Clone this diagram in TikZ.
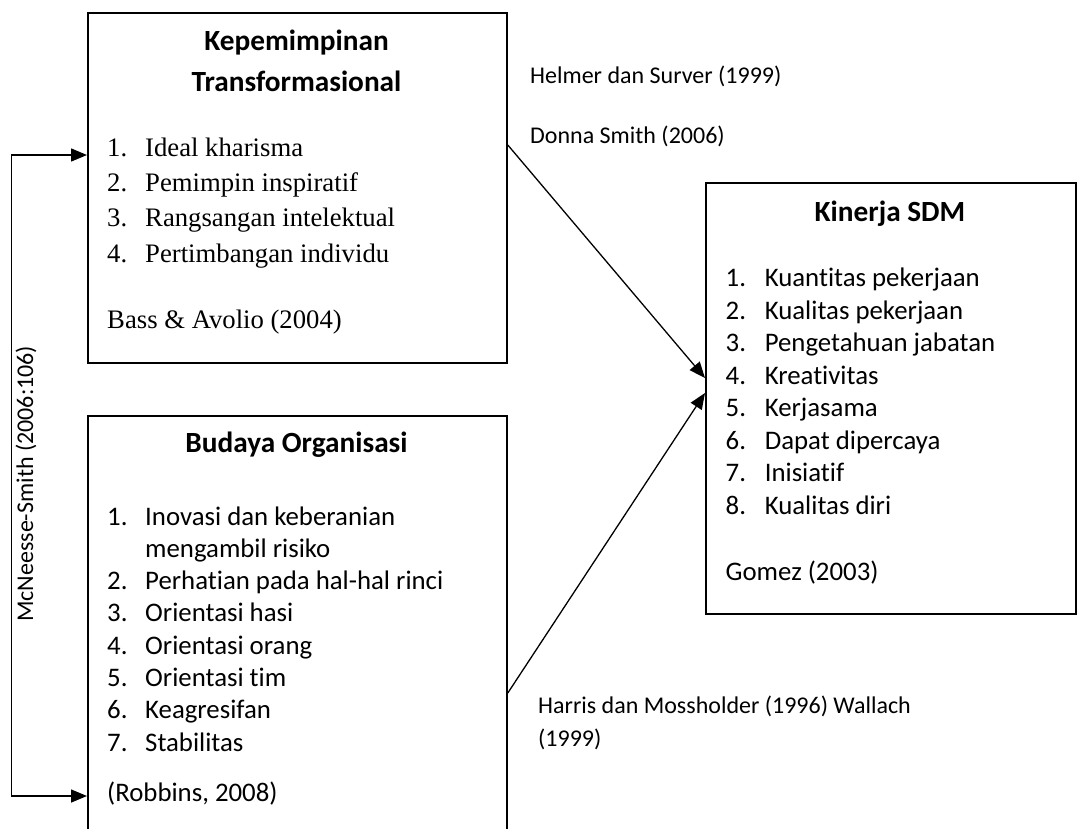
\documentclass[tikz,border=0pt]{standalone}
\usepackage{fontspec}
\setmainfont{Carlito}[Ligatures={NoCommon}]
\newfontfamily\timesfont{Liberation Serif}
\usetikzlibrary{arrows.meta}
\usetikzlibrary{calc}
\tikzset{
  >={Triangle[length=16pt,width=13pt]},
  box/.style={draw, line width=1.8pt, anchor=north west, inner sep=0pt},
  title/.style={font=\bfseries\fontsize{29.3}{35}\selectfont, anchor=base, inner sep=0pt},
  item/.style={font=\fontsize{26.8}{32}\selectfont, anchor=base west, inner sep=0pt},
  serifitem/.style={font=\timesfont\fontsize{26.7}{35}\selectfont, anchor=base west, inner sep=0pt},
  cite/.style={font=\fontsize{24}{33}\selectfont, anchor=base west, inner sep=0pt},
  link/.style={->, line width=1.3pt},
}

\begin{document}
\begin{tikzpicture}[x=1pt, y=-1pt]
    \useasboundingbox (0,0) rectangle (1077,828);
    \clip (0,0) rectangle (1077,828);

    % boxes
    \node [box, minimum width=419pt, minimum height=350pt] (kt) at (87,12)  {};
    \node [box, minimum width=419pt, minimum height=440pt] (bo) at (87,415) {};
    \node [box, minimum width=370pt, minimum height=431pt] (ks) at (705,182) {};

    % Kepemimpinan Transformasional
    \node [title] (kt-t1) at (296.5,50)   {Kepemimpinan};
    \node [title] (kt-t2) at (296.5,91.7) {Transformasional};
    \foreach \txt [count=\i] in {Ideal kharisma, Pemimpin inspiratif,
                                 Rangsangan intelektual, Pertimbangan individu} {
      \node [serifitem] (kt-n\i) at (107,{156.7+35.1*(\i-1)}) {\i.};
      \node [serifitem] (kt-i\i) at (145,{156.7+35.1*(\i-1)}) {\txt};
    }
    \node [serifitem] (kt-src) at (107,328) {Bass \& Avolio (2004)};

    % Budaya Organisasi
    \node [title] (bo-t) at (296.5,452) {Budaya Organisasi};
    \node [item] (bo-n1)  at (107,525)   {1.};
    \node [item] (bo-i1)  at (145,525)   {Inovasi dan keberanian};
    \node [item] (bo-i1b) at (145,557.3) {mengambil risiko};
    \foreach \txt [count=\i from 2] in {Perhatian pada hal-hal rinci, Orientasi hasi,
                                        Orientasi orang, Orientasi tim, Keagresifan, Stabilitas} {
      \node [item] (bo-n\i) at (107,{525+32.3*\i}) {\i.};
      \node [item] (bo-i\i) at (145,{525+32.3*\i}) {\txt};
    }
    \node [item] (bo-src) at (107,801) {(Robbins, 2008)};

    % Kinerja SDM
    \node [title] (ks-t) at (890,221.7) {Kinerja SDM};
    \foreach \txt [count=\i] in {Kuantitas pekerjaan, Kualitas pekerjaan, Pengetahuan jabatan,
                                 Kreativitas, Kerjasama, Dapat dipercaya, Inisiatif, Kualitas diri} {
      \node [item] (ks-n\i) at (725.5,{286.7+32.5*(\i-1)}) {\i.};
      \node [item] (ks-i\i) at (764.6,{286.7+32.5*(\i-1)}) {\txt};
    }
    \node [item] (ks-src) at (725.5,580) {Gomez (2003)};

    % sources on the links
    \node [cite] (c-helmer) at (530,83.3)  {Helmer dan Surver (1999)};
    \node [cite] (c-donna)  at (530,143.3) {Donna Smith (2006)};
    \node [cite] (c-harris) at (538,713)   {Harris dan Mossholder (1996) Wallach};
    \node [cite] (c-harris2) at (538,746)  {(1999)};
    \node [cite, rotate=90] (c-mcn) at (33,622) {McNeesse-Smith (2006:106)};

    % links
    \coordinate (fb-top) at (11.7,155);
    \coordinate (fb-bot) at (11.7,796);
    \draw [link, <->, line width=1.5pt] (kt.west |- fb-top) -- (fb-top) -- (fb-bot) -- (bo.west |- fb-bot);
    \draw [link] (kt.east |- 0,145) -- (ks.west |- 0,378);
    \draw [link] (bo.east |- 0,693) -- (ks.west |- 0,393);
\end{tikzpicture}
\end{document}
